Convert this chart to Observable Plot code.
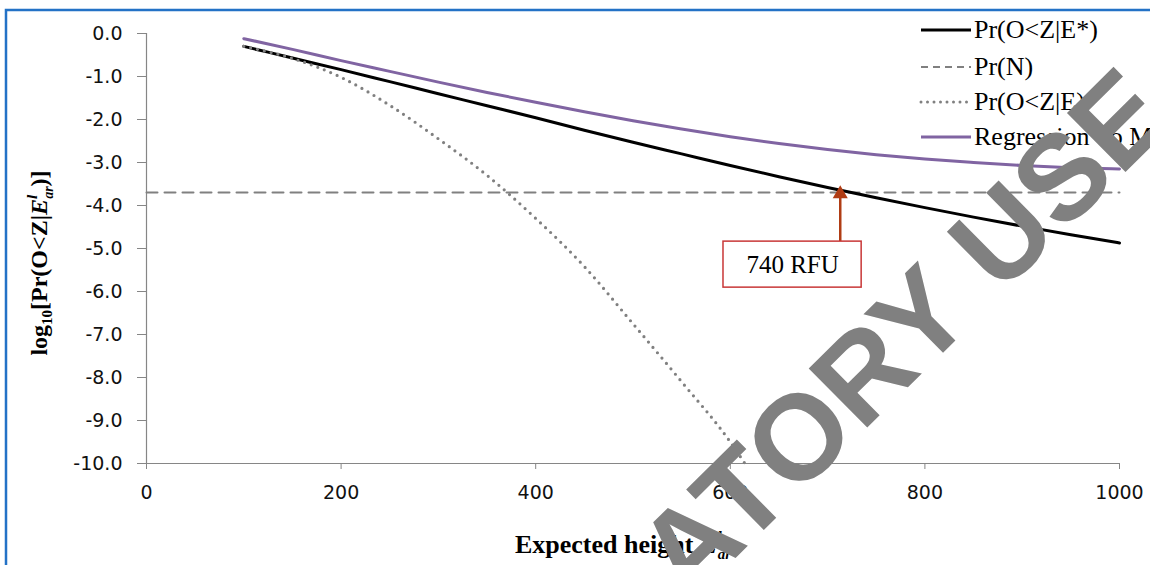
<!DOCTYPE html>
<html><head><meta charset="utf-8">
<script src="https://cdn.jsdelivr.net/npm/d3@7"></script>
<script src="https://cdn.jsdelivr.net/npm/@observablehq/plot@0.6"></script>
<style>
html,body{margin:0;padding:0;background:#fff;overflow:hidden;width:1150px;height:565px}
#wrap{position:relative;width:1150px;height:565px;overflow:hidden}
#wrap > svg{position:absolute;left:0;top:0}
</style></head><body><div id="wrap"></div>
<script>
// ---- data ----
const heights = [100,150,200,250,300,350,400,450,500,550,600,650,700,750,800,850,900,950,1000];
const prOZEstar = [-0.30,-0.57,-0.84,-1.12,-1.40,-1.68,-1.96,-2.25,-2.53,-2.80,-3.07,-3.33,-3.58,-3.82,-4.05,-4.27,-4.48,-4.68,-4.87];
const regressionToMean = [-0.12,-0.37,-0.63,-0.88,-1.13,-1.37,-1.60,-1.82,-2.03,-2.22,-2.40,-2.56,-2.70,-2.82,-2.92,-3.00,-3.07,-3.12,-3.15];
const heightsE = [100,150,200,250,300,350,400,450,500,550,600,615];
const prOZE = [-0.30,-0.58,-1.02,-1.67,-2.45,-3.30,-4.30,-5.42,-6.75,-8.10,-9.50,-10.0];
const prNHeights = [0,1000];
const prNLevel = -3.7;
const xTicks = [0,200,400,600,800,1000];
const yTicks = [0,-1,-2,-3,-4,-5,-6,-7,-8,-9,-10];
const legendLabels = ["Pr(O<Z|E*)","Pr(N)","Pr(O<Z|E)","Regression To Mean"];
const annotationLabel = "740 RFU";
const annotationArrowX = 713;
const annotationArrowTip = -3.53;
const annotationBoxX = [593,735];
const annotationBoxY = [-4.84,-5.91];
const watermarkText = "FOR REGULATORY USE";

// ---- tables ----
const lineStar = heights.map((h,i)=>({h, v: prOZEstar[i]}));
const lineReg = heights.map((h,i)=>({h, v: regressionToMean[i]}));
const lineE = heightsE.map((h,i)=>({h, v: prOZE[i]}));
const lineN = prNHeights.map(h=>({h, v: prNLevel}));
const box = [{x1: annotationBoxX[0], x2: annotationBoxX[1], y1: annotationBoxY[0], y2: annotationBoxY[1],
  xm: (annotationBoxX[0]+annotationBoxX[1])/2, ym: (annotationBoxY[0]+annotationBoxY[1])/2, label: annotationLabel}];
const arrow = [{x: annotationArrowX, tip: annotationArrowTip, base: annotationBoxY[0]}];

const axisGray = "#868686";
const chart = Plot.plot({
  width: 1150, height: 565,
  marginLeft: 146, marginRight: 31, marginTop: 33, marginBottom: 102,
  x: {domain: [0, 1000]},
  y: {domain: [-10, 0]},
  style: {background: "transparent", overflow: "visible"},
  marks: [
    Plot.ruleX([0], {stroke: axisGray, strokeWidth: 1.2}),
    Plot.ruleY([-10], {stroke: axisGray, strokeWidth: 1.2}),
    Plot.axisY(yTicks, {tickSize: 9, tickPadding: 15, tickFormat: d => d.toFixed(1), stroke: axisGray, fill: "#111",
      fontSize: 19, fontFamily: "DejaVu Sans", label: null}),
    Plot.axisX(xTicks, {tickSize: 6, tickPadding: 16, tickFormat: d => String(d), stroke: axisGray, fill: "#111",
      fontSize: 19, fontFamily: "DejaVu Sans", label: null}),
    Plot.line(lineN, {x: "h", y: "v", stroke: "#808080", strokeWidth: 2, strokeDasharray: "11 7"}),
    Plot.line(lineStar, {x: "h", y: "v", stroke: "#000", strokeWidth: 3, curve: "monotone-x"}),
    Plot.line(lineE, {x: "h", y: "v", stroke: "#808080", strokeWidth: 3.2, strokeDasharray: "0 7", strokeLinecap: "round", curve: "monotone-x"}),
    Plot.line(lineReg, {x: "h", y: "v", stroke: "#8064a2", strokeWidth: 3, curve: "monotone-x"}),
    Plot.ruleX(arrow, {x: "x", y1: "base", y2: d => d.tip - 0.25, stroke: "#b03c14", strokeWidth: 2.5}),
    Plot.dot(arrow, {x: "x", y: "tip", symbol: "triangle", r: 5.6, fill: "#b03c14", stroke: "none", dy: 8.66}),
    Plot.rect(box, {x1: "x1", x2: "x2", y1: "y1", y2: "y2", fill: "white", stroke: "#c83737", strokeWidth: 1.5}),
    Plot.text(box, {x: "xm", y: "ym", text: "label", fontFamily: "Liberation Serif", fontSize: 25, fill: "#000"})
  ]
});
const wrap = document.getElementById("wrap");
wrap.appendChild(chart);

// ---- overlay: frame, titles, legend, watermark ----
const NS = "http://www.w3.org/2000/svg";
function el(tag, attrs, parent, text) {
  const e = document.createElementNS(NS, tag);
  for (const k in attrs) e.setAttribute(k, attrs[k]);
  if (text != null) e.textContent = text;
  if (parent) parent.appendChild(e);
  return e;
}
const ov = el("svg", {width: 1150, height: 565, viewBox: "0 0 1150 565"}, wrap);

// x title
const xt = el("text", {x: 623, y: 553, "text-anchor": "middle", "font-family": "Liberation Serif", "font-weight": "bold", "font-size": 26, fill: "#000"}, ov);
el("tspan", {}, xt, "Expected height ");
el("tspan", {"font-style": "italic"}, xt, "E");
el("tspan", {"font-style": "italic", "font-size": 16, dy: -10}, xt, "l");
el("tspan", {"font-style": "italic", "font-size": 15, dx: -4, dy: 16}, xt, "ar");

// y title
const yt = el("text", {transform: "translate(47,263) rotate(-90)", "text-anchor": "middle", "font-family": "Liberation Serif", "font-weight": "bold", "font-size": 24, fill: "#000"}, ov);
el("tspan", {}, yt, "log");
el("tspan", {"font-size": 15, dy: 5}, yt, "10");
el("tspan", {dy: -5}, yt, "[Pr(O<Z|");
el("tspan", {"font-style": "italic"}, yt, "E");
el("tspan", {"font-style": "italic", "font-size": 15, dy: -10}, yt, "l");
el("tspan", {"font-style": "italic", "font-size": 14, dx: -4, dy: 16}, yt, "ar");
el("tspan", {dy: -6}, yt, ")]");

// legend
const legRows = [30, 67, 102, 137];
const legStyles = [
  {stroke: "#000", "stroke-width": 3},
  {stroke: "#808080", "stroke-width": 2, "stroke-dasharray": "7 5"},
  {stroke: "#808080", "stroke-width": 3, "stroke-dasharray": "0 6.5", "stroke-linecap": "round"},
  {stroke: "#8064a2", "stroke-width": 3}
];
legendLabels.forEach((lab, i) => {
  el("line", Object.assign({x1: 921, x2: 971, y1: legRows[i], y2: legRows[i]}, legStyles[i]), ov);
  el("text", {x: 974, y: legRows[i] + 8, "font-family": "Liberation Serif", "font-size": 26, fill: "#000"}, ov, lab);
});

// watermark
el("text", {transform: "translate(1177,121) rotate(-44.7)", "text-anchor": "end", "font-family": "Liberation Sans", "font-weight": "bold", "font-size": 121,
  fill: "#808080"}, ov, watermarkText);

// frame
el("rect", {x: 6, y: 10, width: 2000, height: 2000, fill: "none", stroke: "#2372c6", "stroke-width": 2.5}, ov);
</script></body></html>
